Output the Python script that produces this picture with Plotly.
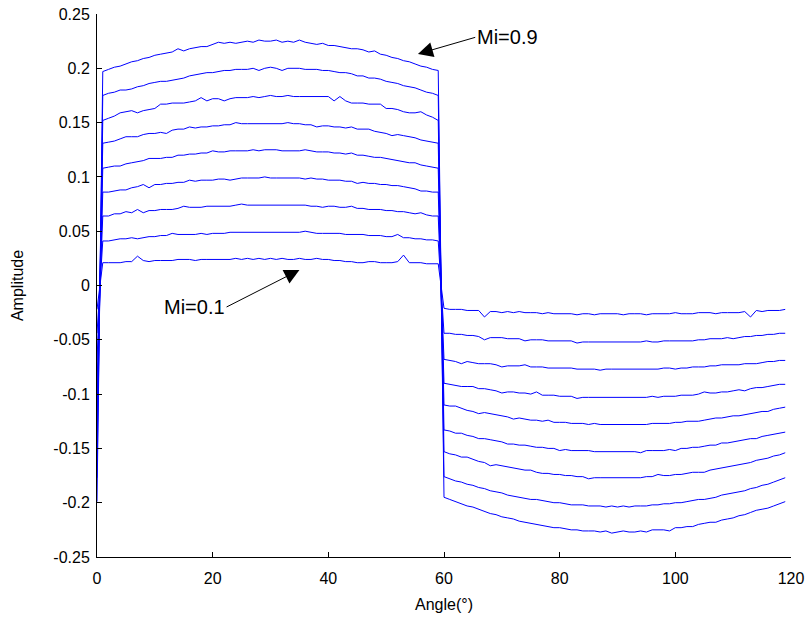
import plotly.graph_objects as go

# Angle axis (degrees), one sample per degree
angle_deg = list(range(0, 120))

mi_labels = ["Mi=0.1", "Mi=0.2", "Mi=0.3", "Mi=0.4", "Mi=0.5", "Mi=0.6", "Mi=0.7", "Mi=0.8", "Mi=0.9"]

# Amplitudes, in thousandths (x 0.001)
amp_mi01 = [-22,
    21, 21, 21, 21, 22, 22, 27, 23, 22, 23,
    23, 23, 23, 24, 24, 24, 23, 24, 24, 24,
    24, 24, 24, 25, 24, 25, 24, 25, 24, 25,
    24, 25, 24, 24, 25, 24, 24, 25, 24, 24,
    23, 23, 22, 22, 21, 21, 22, 22, 21, 21,
    21, 22, 28, 21, 21, 21, 20, 20, 20,
    -21, -22, -22, -22, -23, -23, -23, -29, -24, -24,
    -25, -24, -25, -24, -25, -25, -25, -26, -25, -26,
    -26, -26, -26, -27, -26, -26, -27, -26, -26, -26,
    -26, -27, -26, -26, -26, -27, -26, -26, -26, -26,
    -25, -26, -26, -26, -25, -25, -25, -26, -25, -25,
    -25, -25, -24, -29, -23, -24, -23, -23, -23, -22]

amp_mi02 = [-44,
    41, 41, 42, 43, 43, 44, 43, 44, 45, 45,
    46, 46, 48, 47, 47, 47, 47, 48, 47, 48,
    48, 48, 49, 49, 49, 49, 49, 49, 49, 49,
    49, 49, 49, 49, 49, 50, 49, 48, 48, 48,
    48, 48, 47, 47, 47, 47, 46, 46, 46, 45,
    45, 47, 44, 44, 43, 43, 42, 42, 41,
    -44, -44, -45, -45, -46, -46, -47, -50, -48, -48,
    -48, -49, -49, -49, -51, -50, -50, -50, -51, -51,
    -51, -51, -51, -53, -52, -52, -52, -52, -52, -52,
    -52, -52, -52, -52, -52, -51, -52, -52, -51, -51,
    -51, -51, -51, -51, -50, -50, -49, -49, -49, -48,
    -49, -48, -47, -47, -46, -46, -45, -45, -44, -44]

amp_mi03 = [-69,
    64, 64, 66, 66, 68, 67, 70, 67, 69, 69,
    70, 70, 70, 71, 73, 72, 72, 72, 73, 73,
    73, 73, 73, 74, 75, 74, 74, 74, 74, 74,
    74, 74, 74, 74, 74, 74, 73, 73, 72, 73,
    73, 72, 72, 73, 71, 71, 70, 70, 70, 69,
    69, 68, 68, 67, 66, 67, 65, 64, 64,
    -68, -69, -70, -72, -70, -71, -72, -72, -72, -73,
    -75, -74, -74, -74, -73, -75, -75, -75, -76, -76,
    -76, -76, -76, -77, -77, -77, -77, -78, -77, -77,
    -77, -77, -77, -77, -77, -77, -77, -77, -76, -76,
    -77, -76, -76, -75, -75, -75, -74, -74, -73, -73,
    -73, -73, -72, -72, -72, -71, -70, -70, -69, -69]

amp_mi04 = [-91,
    86, 86, 87, 88, 88, 90, 91, 93, 90, 93,
    93, 94, 94, 95, 95, 97, 96, 97, 97, 97,
    98, 98, 97, 98, 99, 99, 99, 99, 100, 99,
    99, 99, 99, 99, 99, 98, 99, 98, 98, 97,
    97, 97, 96, 96, 94, 95, 94, 94, 93, 93,
    92, 92, 91, 90, 89, 87, 87, 86, 86,
    -90, -91, -92, -93, -93, -93, -95, -95, -96, -97,
    -99, -98, -98, -99, -99, -100, -98, -101, -101, -101,
    -102, -102, -102, -104, -103, -103, -103, -103, -103, -103,
    -103, -103, -103, -103, -103, -103, -102, -103, -102, -102,
    -102, -101, -101, -101, -100, -98, -99, -99, -98, -98,
    -97, -96, -97, -95, -94, -94, -93, -92, -91, -91]

amp_mi05 = [-112,
    108, 109, 110, 110, 112, 113, 114, 115, 117, 117,
    117, 118, 118, 120, 120, 121, 121, 122, 122, 124,
    123, 123, 124, 124, 124, 124, 125, 124, 125, 125,
    125, 124, 124, 124, 124, 125, 124, 123, 123, 123,
    122, 122, 121, 122, 120, 120, 119, 118, 118, 117,
    116, 115, 114, 113, 113, 111, 110, 109, 108,
    -110, -111, -111, -113, -115, -116, -118, -117, -118, -119,
    -120, -121, -123, -122, -123, -124, -124, -125, -124, -126,
    -126, -126, -127, -127, -127, -128, -127, -128, -128, -128,
    -128, -128, -128, -128, -128, -128, -127, -127, -127, -127,
    -126, -126, -125, -125, -125, -124, -123, -122, -122, -121,
    -120, -120, -119, -118, -117, -116, -116, -114, -113, -112]

amp_mi06 = [-135,
    131, 132, 133, 135, 137, 137, 137, 139, 140, 140,
    141, 140, 143, 144, 144, 146, 145, 146, 146, 147,
    147, 148, 148, 150, 149, 149, 149, 149, 149, 149,
    149, 149, 150, 149, 149, 148, 148, 146, 147, 147,
    146, 146, 145, 146, 144, 144, 144, 142, 141, 140,
    138, 139, 138, 137, 136, 134, 133, 132, 131,
    -133, -134, -136, -136, -138, -139, -141, -141, -142, -143,
    -144, -146, -146, -147, -147, -148, -149, -149, -150, -150,
    -152, -151, -152, -152, -152, -152, -153, -153, -153, -153,
    -153, -153, -153, -153, -154, -152, -152, -152, -152, -151,
    -152, -150, -150, -149, -149, -148, -147, -147, -145, -145,
    -144, -143, -142, -141, -141, -139, -138, -137, -136, -135]

amp_mi07 = [-154,
    152, 154, 156, 159, 160, 161, 159, 161, 162, 163,
    167, 167, 168, 168, 168, 169, 170, 173, 170, 172,
    172, 170, 172, 173, 173, 173, 174, 173, 174, 175,
    174, 174, 175, 174, 174, 174, 174, 174, 174, 174,
    170, 174, 170, 168, 168, 168, 167, 167, 167, 163,
    163, 162, 160, 159, 159, 160, 157, 155, 152,
    -153, -155, -156, -158, -158, -160, -162, -163, -166, -165,
    -166, -167, -168, -169, -170, -170, -172, -173, -173, -174,
    -174, -175, -175, -176, -176, -178, -177, -177, -177, -177,
    -177, -177, -177, -177, -177, -176, -176, -174, -175, -175,
    -174, -174, -173, -172, -172, -172, -170, -169, -168, -167,
    -166, -165, -164, -163, -161, -160, -159, -157, -156, -154]

amp_mi08 = [-177,
    175, 177, 178, 180, 180, 181, 183, 184, 186, 187,
    188, 188, 189, 190, 191, 193, 194, 195, 196, 196,
    197, 198, 198, 199, 199, 199, 200, 198, 200, 201,
    200, 198, 200, 200, 200, 199, 199, 199, 198, 198,
    197, 196, 196, 195, 193, 193, 191, 191, 190, 188,
    187, 186, 184, 183, 182, 180, 178, 177, 175,
    -176, -178, -180, -181, -183, -184, -186, -187, -189, -190,
    -191, -193, -194, -195, -196, -197, -197, -198, -199, -200,
    -200, -201, -202, -202, -202, -203, -203, -203, -204, -203,
    -204, -203, -204, -203, -203, -203, -202, -202, -201, -201,
    -200, -200, -199, -198, -197, -197, -196, -195, -193, -192,
    -191, -190, -189, -187, -186, -184, -183, -181, -179, -177]

amp_mi09 = [-199,
    197, 199, 201, 202, 204, 206, 207, 209, 210, 212,
    213, 214, 215, 218, 216, 218, 219, 220, 220, 222,
    224, 223, 224, 223, 224, 225, 224, 226, 225, 225,
    226, 224, 225, 224, 226, 224, 223, 222, 223, 221,
    221, 220, 219, 218, 218, 217, 215, 216, 213, 212,
    210, 209, 207, 206, 204, 202, 201, 199, 198,
    -195, -197, -199, -201, -203, -204, -206, -208, -210, -211,
    -213, -214, -215, -217, -218, -219, -220, -221, -222, -223,
    -223, -224, -225, -225, -226, -226, -226, -227, -226, -228,
    -227, -226, -227, -227, -226, -227, -225, -225, -225, -226,
    -223, -223, -222, -222, -220, -219, -218, -218, -216, -215,
    -214, -212, -211, -209, -207, -206, -205, -203, -201, -199]

series_milli = [amp_mi01, amp_mi02, amp_mi03, amp_mi04, amp_mi05,
                amp_mi06, amp_mi07, amp_mi08, amp_mi09]

x_ticks = [0, 20, 40, 60, 80, 100, 120]
y_ticks = [-0.25, -0.2, -0.15, -0.1, -0.05, 0, 0.05, 0.1, 0.15, 0.2, 0.25]
y_ticktext = ["-0.25", "-0.2", "-0.15", "-0.1", "-0.05", "0", "0.05", "0.1", "0.15", "0.2", "0.25"]

FONT = "Liberation Sans, Arial, Helvetica, sans-serif"

fig = go.Figure()
for name, vals in zip(mi_labels, series_milli):
    fig.add_trace(go.Scatter(
        x=angle_deg, y=[v / 1000.0 for v in vals], mode="lines", name=name,
        line=dict(color="#0000FF", width=1), showlegend=False,
        hoverinfo="skip"))

fig.add_annotation(x=55.5, y=0.2132, ax=65.4, ay=0.2285, xref="x", yref="y",
                   axref="x", ayref="y", text="Mi=0.9", showarrow=True,
                   arrowhead=2, arrowsize=3, arrowwidth=1, arrowcolor="black",
                   xanchor="left", yanchor="middle",
                   font=dict(family=FONT, size=20, color="black"))
fig.add_annotation(x=35.0, y=0.0143, ax=22.4, ay=-0.0198, xref="x", yref="y",
                   axref="x", ayref="y", text="Mi=0.1", showarrow=True,
                   arrowhead=2, arrowsize=3, arrowwidth=1, arrowcolor="black",
                   xanchor="right", yanchor="middle",
                   font=dict(family=FONT, size=20, color="black"))

axis_common = dict(showgrid=False, zeroline=False, showline=True, linecolor="black",
                   linewidth=1, ticks="inside", ticklen=5, tickcolor="black",
                   tickfont=dict(family=FONT, size=16, color="black"), mirror=False,
                   automargin=False, ticklabeloverflow="allow")

fig.update_layout(
    template="none",
    width=810, height=620,
    margin=dict(l=97, r=19, t=14, b=63, pad=0),
    paper_bgcolor="white", plot_bgcolor="white",
    font=dict(family=FONT, size=16, color="black"),
    xaxis=dict(range=[0, 120], tickvals=x_ticks, ticklabelstandoff=7,
               title=dict(text="Angle(°)", font=dict(family=FONT, size=16), standoff=12),
               **axis_common),
    yaxis=dict(range=[-0.25, 0.25], tickvals=y_ticks, ticktext=y_ticktext,
               ticklabelstandoff=3,
               title=dict(text="Amplitude", font=dict(family=FONT, size=16), standoff=25),
               **axis_common),
)

# Remove the page's default body margin so the 810x620 figure fills the window
fig.write_html("out.html",
               config={"displayModeBar": False},
               post_script="document.body.style.margin='0';document.body.style.overflow='hidden';")
